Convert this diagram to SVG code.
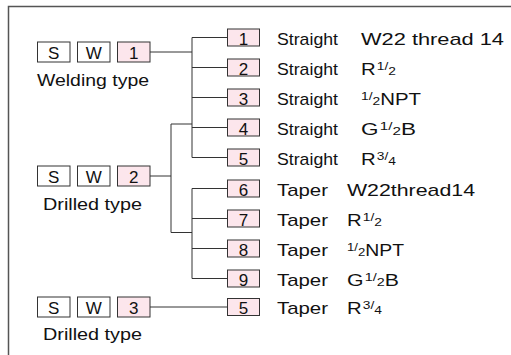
<svg xmlns="http://www.w3.org/2000/svg" width="511" height="355" viewBox="0 0 511 355">
<style>
text{font-family:"Liberation Sans",Arial,sans-serif;fill:#111;}
.lb{fill:#fff;stroke:#333;stroke-width:1}
.pk{fill:#fce6ec;stroke:#333;stroke-width:1}
.bt{font-size:17px;text-anchor:middle}
.lt{font-size:17px}
.rt{font-size:17px}
.fr{font-size:11.5px}
.con{fill:none;stroke:#333;stroke-width:1}
</style>
<rect width="511" height="355" fill="#fff"/>
<path d="M8.5 355 V6.5 H511" fill="none" stroke="#555" stroke-width="1.5"/>
<g id="connectors" class="con">
<path d="M150 52 H192 M192 37.5 V157.5 M192 37.5 H227 M192 67.5 H227 M192 97.5 H227 M192 127.5 H227 M192 157.5 H227"/>
<path d="M150 176 H171 M171 124 V232.5 M171 124 H192 M171 232.5 H192 M192 188.5 V278.5 M192 188.5 H227 M192 218.5 H227 M192 248.5 H227 M192 278.5 H227"/>
<path d="M150 307 H227"/>
</g>
<g id="code1">
<rect class="lb" x="37.5" y="42" width="32.5" height="20"/><text class="bt" x="53.7" y="59">S</text>
<rect class="lb" x="77.5" y="42" width="32.5" height="20"/><text class="bt" x="93.7" y="59">W</text>
<rect class="pk" x="117.5" y="42" width="32.5" height="20"/><text class="bt" x="133.7" y="59">1</text>
<text class="lt" x="37" y="86" textLength="112" lengthAdjust="spacingAndGlyphs">Welding type</text>
</g>
<g id="code2">
<rect class="lb" x="37.5" y="166" width="32.5" height="20"/><text class="bt" x="53.7" y="183">S</text>
<rect class="lb" x="77.5" y="166" width="32.5" height="20"/><text class="bt" x="93.7" y="183">W</text>
<rect class="pk" x="117.5" y="166" width="32.5" height="20"/><text class="bt" x="133.7" y="183">2</text>
<text class="lt" x="43" y="210" textLength="99" lengthAdjust="spacingAndGlyphs">Drilled type</text>
</g>
<g id="code3">
<rect class="lb" x="37.5" y="297" width="32.5" height="20"/><text class="bt" x="53.7" y="314">S</text>
<rect class="lb" x="77.5" y="297" width="32.5" height="20"/><text class="bt" x="93.7" y="314">W</text>
<rect class="pk" x="117.5" y="297" width="32.5" height="20"/><text class="bt" x="133.7" y="314">3</text>
<text class="lt" x="43" y="340" textLength="99" lengthAdjust="spacingAndGlyphs">Drilled type</text>
</g>
<g id="opt1"><rect class="pk" x="227.5" y="29" width="32" height="17"/><text class="bt" x="243.5" y="44.5">1</text>
<text class="rt" x="277" y="44.5" textLength="61" lengthAdjust="spacingAndGlyphs">Straight</text><text class="rt" x="361" y="44.5" textLength="143" lengthAdjust="spacingAndGlyphs">W22 thread 14</text></g>
<g id="opt2"><rect class="pk" x="227.5" y="59" width="32" height="17"/><text class="bt" x="243.5" y="74.5">2</text>
<text class="rt" x="277" y="74.5" textLength="61" lengthAdjust="spacingAndGlyphs">Straight</text><text class="rt" x="361" y="74.5" textLength="35" lengthAdjust="spacingAndGlyphs">R<tspan class="fr" dx="1" dy="-5">1</tspan><tspan class="fr">/</tspan><tspan class="fr" dy="5">2</tspan></text></g>
<g id="opt3"><rect class="pk" x="227.5" y="89" width="32" height="17"/><text class="bt" x="243.5" y="104.5">3</text>
<text class="rt" x="277" y="104.5" textLength="61" lengthAdjust="spacingAndGlyphs">Straight</text><text class="rt" x="361" y="104.5" textLength="60" lengthAdjust="spacingAndGlyphs"><tspan class="fr" dy="-5">1</tspan><tspan class="fr">/</tspan><tspan class="fr" dy="5">2</tspan>NPT</text></g>
<g id="opt4"><rect class="pk" x="227.5" y="119" width="32" height="17"/><text class="bt" x="243.5" y="134.5">4</text>
<text class="rt" x="277" y="134.5" textLength="61" lengthAdjust="spacingAndGlyphs">Straight</text><text class="rt" x="361" y="134.5" textLength="55" lengthAdjust="spacingAndGlyphs">G<tspan class="fr" dx="1" dy="-5">1</tspan><tspan class="fr">/</tspan><tspan class="fr" dy="5">2</tspan>B</text></g>
<g id="opt5"><rect class="pk" x="227.5" y="149" width="32" height="17"/><text class="bt" x="243.5" y="164.5">5</text>
<text class="rt" x="277" y="164.5" textLength="61" lengthAdjust="spacingAndGlyphs">Straight</text><text class="rt" x="361" y="164.5" textLength="35" lengthAdjust="spacingAndGlyphs">R<tspan class="fr" dx="1" dy="-5">3</tspan><tspan class="fr">/</tspan><tspan class="fr" dy="5">4</tspan></text></g>
<g id="opt6"><rect class="pk" x="227.5" y="180" width="32" height="17"/><text class="bt" x="243.5" y="195.5">6</text>
<text class="rt" x="277" y="195.5" textLength="51" lengthAdjust="spacingAndGlyphs">Taper</text><text class="rt" x="347" y="195.5" textLength="128" lengthAdjust="spacingAndGlyphs">W22thread14</text></g>
<g id="opt7"><rect class="pk" x="227.5" y="210" width="32" height="17"/><text class="bt" x="243.5" y="225.5">7</text>
<text class="rt" x="277" y="225.5" textLength="51" lengthAdjust="spacingAndGlyphs">Taper</text><text class="rt" x="347" y="225.5" textLength="35" lengthAdjust="spacingAndGlyphs">R<tspan class="fr" dx="1" dy="-5">1</tspan><tspan class="fr">/</tspan><tspan class="fr" dy="5">2</tspan></text></g>
<g id="opt8"><rect class="pk" x="227.5" y="240" width="32" height="17"/><text class="bt" x="243.5" y="255.5">8</text>
<text class="rt" x="277" y="255.5" textLength="51" lengthAdjust="spacingAndGlyphs">Taper</text><text class="rt" x="347" y="255.5" textLength="57" lengthAdjust="spacingAndGlyphs"><tspan class="fr" dy="-5">1</tspan><tspan class="fr">/</tspan><tspan class="fr" dy="5">2</tspan>NPT</text></g>
<g id="opt9"><rect class="pk" x="227.5" y="270" width="32" height="17"/><text class="bt" x="243.5" y="285.5">9</text>
<text class="rt" x="277" y="285.5" textLength="51" lengthAdjust="spacingAndGlyphs">Taper</text><text class="rt" x="347" y="285.5" textLength="52" lengthAdjust="spacingAndGlyphs">G<tspan class="fr" dx="1" dy="-5">1</tspan><tspan class="fr">/</tspan><tspan class="fr" dy="5">2</tspan>B</text></g>
<g id="opt5b"><rect class="pk" x="227.5" y="298.5" width="32" height="17"/><text class="bt" x="243.5" y="314">5</text>
<text class="rt" x="277" y="314" textLength="51" lengthAdjust="spacingAndGlyphs">Taper</text><text class="rt" x="347" y="314" textLength="35" lengthAdjust="spacingAndGlyphs">R<tspan class="fr" dx="1" dy="-5">3</tspan><tspan class="fr">/</tspan><tspan class="fr" dy="5">4</tspan></text></g>
</svg>
